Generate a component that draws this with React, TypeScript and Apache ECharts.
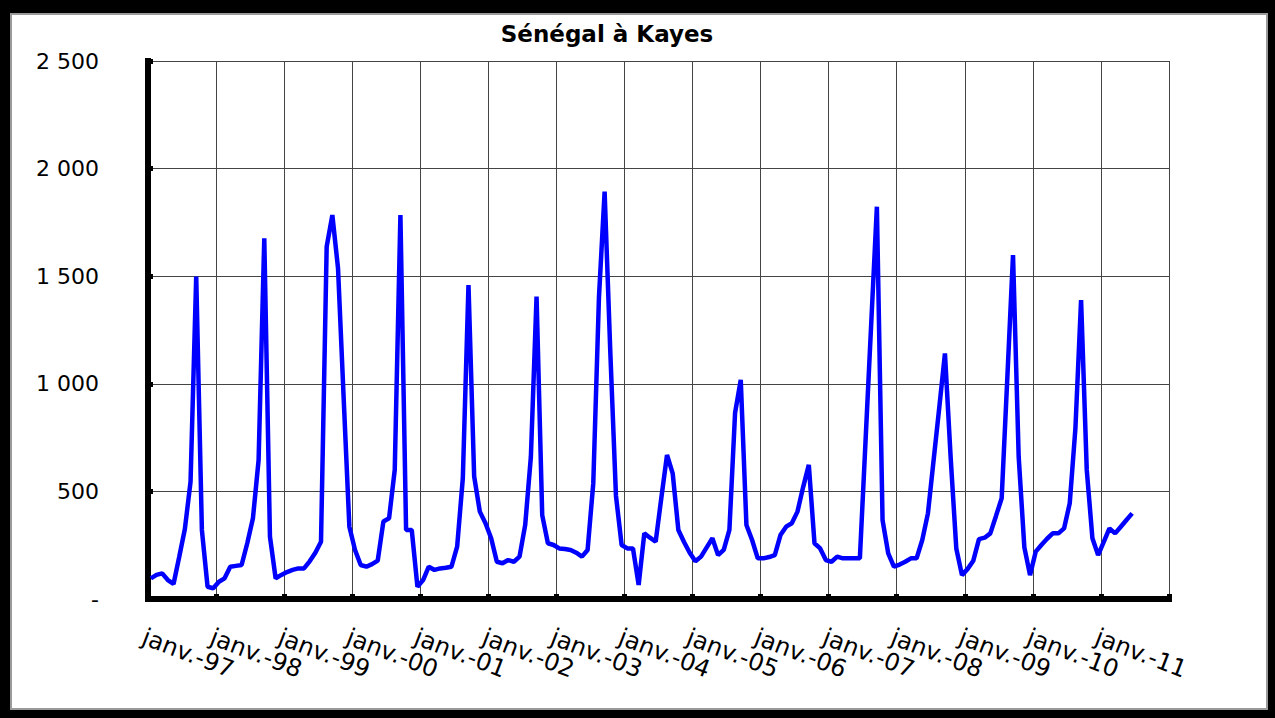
import React, { useEffect, useRef } from "react";
import * as echarts from "echarts";

const TITLE = "Sénégal à Kayes";
const MONTHS = ["janv.", "févr.", "mars", "avr.", "mai", "juin", "juil.", "août", "sept.", "oct.", "nov.", "déc."];
const YEARS = ["97", "98", "99", "00", "01", "02", "03", "04", "05", "06", "07", "08", "09", "10", "11"];
const Y_TICKS = [0, 500, 1000, 1500, 2000, 2500];

// Monthly flow values (m3/s)
const q1997 = [96, 112, 119, 88, 70, 195, 325, 545, 1498, 321, 57, 50];
const q1998 = [80, 96, 150, 154, 158, 259, 375, 646, 1676, 290, 96, 112];
const q1999 = [125, 135, 142, 142, 175, 215, 266, 1637, 1784, 1537, 930, 336];
const q2000 = [228, 158, 150, 162, 178, 360, 375, 600, 1784, 321, 321, 57];
const q2001 = [88, 150, 135, 142, 145, 150, 243, 560, 1459, 570, 406, 352];
const q2002 = [282, 173, 166, 181, 173, 197, 344, 661, 1405, 390, 259, 251];
const q2003 = [235, 232, 228, 215, 197, 228, 537, 1400, 1893, 1150, 480, 251];
const q2004 = [235, 235, 65, 305, 285, 266, 470, 669, 584, 321, 265, 215];
const q2005 = [175, 197, 240, 282, 204, 228, 321, 865, 1018, 344, 274, 189];
const q2006 = [189, 195, 204, 297, 336, 352, 406, 520, 623, 259, 235, 181];
const q2007 = [173, 197, 189, 189, 189, 189, 734, 1279, 1823, 367, 212, 150];
const q2008 = [160, 173, 189, 189, 274, 398, 645, 890, 1141, 660, 235, 111];
const q2009 = [140, 178, 278, 285, 305, 386, 468, 1030, 1598, 660, 240, 111];
const q2010 = [220, 251, 280, 305, 305, 328, 445, 793, 1389, 600, 282, 204];
const q2011 = [265, 328, 305, 336, 367, 398];

const flows = [
  ...q1997, ...q1998, ...q1999, ...q2000, ...q2001, ...q2002, ...q2003, ...q2004,
  ...q2005, ...q2006, ...q2007, ...q2008, ...q2009, ...q2010, ...q2011,
];

const categories: string[] = [];
YEARS.forEach((y) => MONTHS.forEach((m) => categories.push(`${m}-${y}`)));

const fmtY = (v: number) => (v === 0 ? "-" : String(v).replace(/\B(?=(\d{3})+(?!\d))/g, " "));

export default function App() {
  const ref = useRef<HTMLDivElement>(null);
  useEffect(() => {
    const chart = echarts.init(ref.current!, null, { renderer: "svg" });
    chart.setOption({
      animation: false,
      backgroundColor: "transparent",
      title: {
        text: TITLE,
        left: 602,
        top: 17,
        textAlign: "center",
        textStyle: { fontFamily: "DejaVu Sans", fontSize: 23, fontWeight: "bold", color: "#000" },
      },
      grid: { left: 148, top: 61, width: 1021, height: 538 },
      xAxis: {
        type: "category",
        data: categories,
        boundaryGap: true,
        axisLine: { lineStyle: { color: "#000", width: 6, cap: "square" } },
        axisTick: { show: true, inside: true, length: 5, interval: 11, lineStyle: { color: "#000", width: 5 } },
        axisLabel: {
          interval: 11,
          rotate: -21,
          margin: 40,
          padding: [0, 0, 0, -8],
          fontFamily: "DejaVu Sans",
          fontSize: 24,
          color: "#000",
        },
        splitLine: { show: true, interval: 11, lineStyle: { color: "#444", width: 1 } },
      },
      yAxis: {
        type: "value",
        min: Y_TICKS[0],
        max: Y_TICKS[Y_TICKS.length - 1],
        interval: 500,
        axisLine: { show: true, lineStyle: { color: "#000", width: 6, cap: "square" } },
        axisTick: { show: true, inside: true, length: 5, lineStyle: { color: "#000", width: 5 } },
        axisLabel: {
          margin: 49,
          formatter: fmtY,
          fontFamily: "DejaVu Sans",
          fontSize: 22,
          color: "#000",
        },
        splitLine: { show: true, lineStyle: { color: "#444", width: 1 } },
      },
      series: [
        {
          type: "line",
          data: flows,
          symbol: "none",
          showSymbol: false,
          lineStyle: { color: "#0000ff", width: 4.5 },
          itemStyle: { color: "#0000ff" },
        },
      ],
    });
    return () => chart.dispose();
  }, []);

  return (
    <div style={{ position: "absolute", left: 0, top: 0, width: 1275, height: 718, background: "#000" }}>
      <div
        style={{
          position: "absolute",
          left: 10,
          top: 13,
          width: 1258,
          height: 697,
          background: "#fff",
          boxSizing: "border-box",
          border: "2px solid #9a9a9a",
        }}
      />
      <div ref={ref} style={{ position: "absolute", left: 0, top: 0, width: 1275, height: 718 }} />
    </div>
  );
}
